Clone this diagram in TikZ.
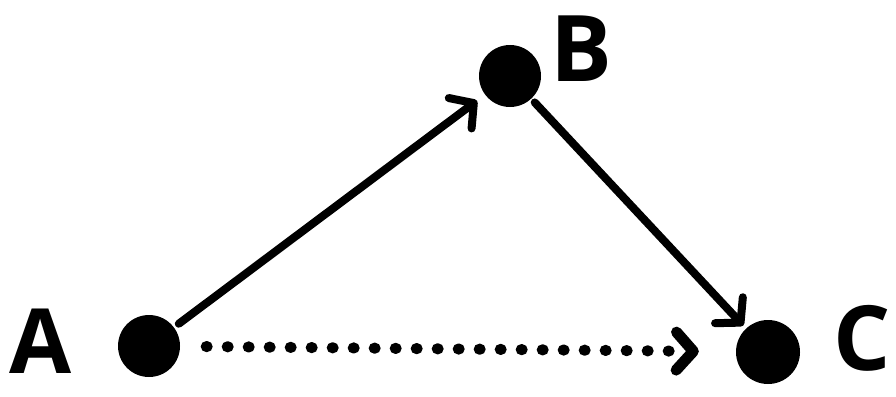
\documentclass[tikz,border=0pt]{standalone}
\usepackage{fontspec}
\setmainfont{Open Sans}
\usetikzlibrary{arrows.meta}

\tikzset{
  dot/.style={circle, fill=black, inner sep=0pt, minimum size=#1},
  link/.style={line width=8pt, line cap=round,
    -{Straight Barb[length=17pt, width=38pt, line cap=round, line join=round]}},
  dotlink/.style={link, dash pattern=on 1pt off 20pt, line width=11pt},
  letter/.style={inner sep=0pt, font=\fontsize{#1}{#1}\selectfont\bfseries}
}

\begin{document}
\begin{tikzpicture}[x=1pt,y=-1pt]
  \useasboundingbox (0,0) rectangle (896,396);

  % points
  \node[dot=62pt] (A) at (149,346) {};
  \node[dot=62pt] (B) at (510,76) {};
  \node[dot=64pt] (C) at (768,352) {};

  % letters
  \node[letter=90] (la) at (41,341) {A};
  \node[letter=92] (lb) at (581,49) {B};
  \node[letter=90] (lc) at (862,338) {C};

  % arrows
  \draw[link, shorten <=6pt, shorten >=10pt] (A) -- (B);
  \draw[link, shorten <=5pt, shorten >=4pt] (B) -- (C);
  \draw[dotlink, shorten <=26pt, shorten >=37pt] (A) -- (C);

\end{tikzpicture}
\end{document}
